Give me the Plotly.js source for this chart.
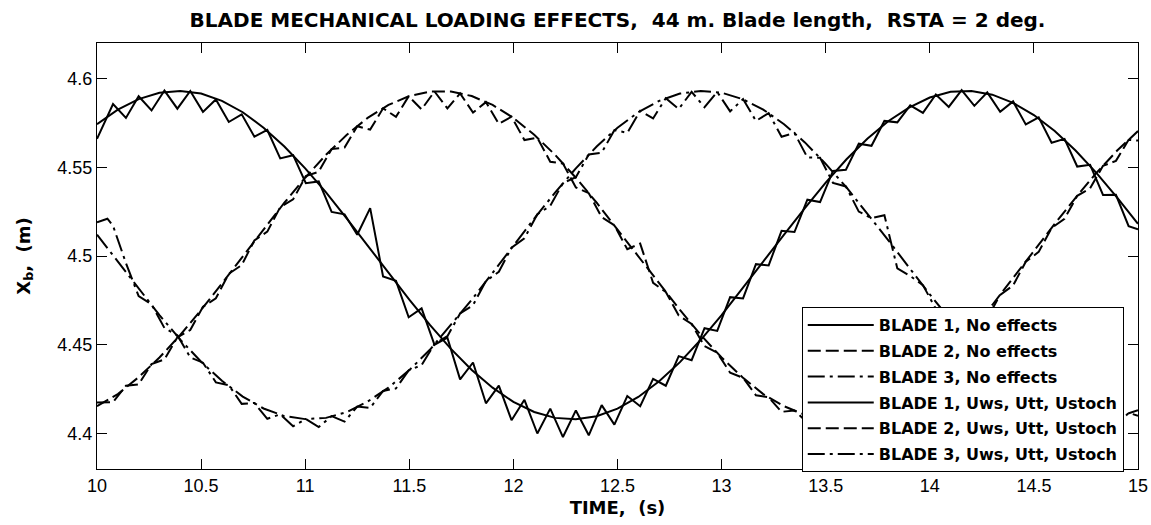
<!DOCTYPE html>
<html><head><meta charset="utf-8">
<script src="https://cdn.plot.ly/plotly-3.0.1.min.js"></script>
<style>html,body{margin:0;padding:0;background:#fff}#chart{width:1151px;height:525px}</style>
</head><body><div id="chart"></div>
<script>
const timeGrid = [10.0,10.1,10.2,10.3,10.4,10.5,10.6,10.7,10.8,10.9,11.0,11.1,11.2,11.3,11.4,11.5,11.6,11.7,11.8,11.9,12.0,12.1,12.2,12.3,12.4,12.5,12.6,12.7,12.8,12.9,13.0,13.1,13.2,13.3,13.4,13.5,13.6,13.7,13.8,13.9,14.0,14.1,14.2,14.3,14.4,14.5,14.6,14.7,14.8,14.9,15.0];
const blade1NoEffects = [4.5742,4.5825,4.5884,4.5920,4.5930,4.5915,4.5874,4.5810,4.5723,4.5617,4.5494,4.5358,4.5211,4.5059,4.4905,4.4754,4.4610,4.4477,4.4358,4.4258,4.4178,4.4121,4.4088,4.4080,4.4097,4.4140,4.4206,4.4294,4.4402,4.4528,4.4667,4.4816,4.4967,4.5120,4.5270,4.5413,4.5545,4.5661,4.5759,4.5836,4.5893,4.5925,4.5929,4.5909,4.5863,4.5794,4.5704,4.5594,4.5468,4.5329,4.5181];
const blade2NoEffects = [4.4154,4.4222,4.4317,4.4428,4.4555,4.4696,4.4845,4.4997,4.5150,4.5300,4.5441,4.5570,4.5683,4.5778,4.5851,4.5901,4.5927,4.5927,4.5901,4.5851,4.5778,4.5683,4.5570,4.5441,4.5300,4.5150,4.4997,4.4845,4.4696,4.4555,4.4428,4.4317,4.4222,4.4154,4.4105,4.4082,4.4085,4.4113,4.4166,4.4242,4.4338,4.4453,4.4582,4.4724,4.4874,4.5028,4.5181,4.5328,4.5468,4.5594,4.5704];
const blade3NoEffects = [4.5120,4.4967,4.4814,4.4667,4.4529,4.4404,4.4297,4.4208,4.4141,4.4098,4.4081,4.4088,4.4121,4.4180,4.4258,4.4357,4.4473,4.4611,4.4754,4.4905,4.5059,4.5211,4.5357,4.5494,4.5617,4.5723,4.5810,4.5874,4.5915,4.5930,4.5920,4.5884,4.5825,4.5742,4.5640,4.5519,4.5386,4.5241,4.5090,4.4936,4.4784,4.4639,4.4503,4.4382,4.4277,4.4192,4.4130,4.4092,4.4080,4.4093,4.4131];

const effTime = [10.000,10.077,10.139,10.200,10.262,10.324,10.386,10.448,10.509,10.571,10.633,10.695,10.756,10.818,10.880,10.942,11.003,11.065,11.127,11.189,11.250,11.312,11.374,11.436,11.497,11.559,11.621,11.683,11.744,11.806,11.868,11.930,11.991,12.053,12.115,12.177,12.238,12.300,12.362,12.424,12.485,12.547,12.609,12.671,12.732,12.794,12.856,12.918,12.979,13.041,13.103,13.165,13.226,13.288,13.350,13.412,13.473,13.535,13.597,13.659,13.720,13.782,13.844,13.906,13.967,14.029,14.091,14.153,14.214,14.276,14.338,14.400,14.461,14.523,14.585,14.647,14.708,14.770,14.832,14.894,14.955,15.000];
const blade1Effects = [4.5660,4.5856,4.5778,4.5900,4.5820,4.5932,4.5830,4.5930,4.5812,4.5882,4.5755,4.5798,4.5672,4.5710,4.5550,4.5568,4.5410,4.5420,4.5248,4.5235,4.5120,4.5270,4.4885,4.4860,4.4655,4.4705,4.4500,4.4540,4.4305,4.4400,4.4170,4.4270,4.4075,4.4190,4.4000,4.4140,4.3980,4.4130,4.3990,4.4160,4.4050,4.4211,4.4154,4.4308,4.4269,4.4436,4.4413,4.4593,4.4578,4.4768,4.4761,4.4954,4.4947,4.5142,4.5135,4.5317,4.5304,4.5479,4.5486,4.5633,4.5621,4.5761,4.5753,4.5849,4.5806,4.5910,4.5840,4.5935,4.5846,4.5922,4.5812,4.5871,4.5741,4.5781,4.5638,4.5660,4.5504,4.5514,4.5344,4.5345,4.5168,4.5150];
const blade2Effects = [4.4175,4.4176,4.4269,4.4277,4.4391,4.4418,4.4542,4.4583,4.4714,4.4762,4.4900,4.4949,4.5088,4.5137,4.5275,4.5319,4.5450,4.5475,4.5603,4.5611,4.5731,4.5712,4.5832,4.5784,4.5900,4.5826,4.5927,4.5832,4.5916,4.5808,4.5867,4.5744,4.5785,4.5653,4.5666,4.5531,4.5521,4.5386,4.5354,4.5219,4.5173,4.5038,4.5070,4.4849,4.4797,4.4665,4.4617,4.4492,4.4455,4.4342,4.4314,4.4215,4.4204,4.4122,4.4130,4.4062,4.4088,4.4043,4.4085,4.4062,4.4124,4.4116,4.4199,4.4208,4.4306,4.4331,4.4443,4.4481,4.4602,4.4650,4.4781,4.4834,4.4968,4.5023,4.5158,4.5210,4.5339,4.5381,4.5508,4.5536,4.5655,4.5650];
const blade3EffTime = [10.000,10.050,10.077,10.139,10.200,10.262,10.324,10.386,10.448,10.509,10.571,10.633,10.695,10.756,10.818,10.880,10.942,11.003,11.065,11.127,11.189,11.250,11.312,11.374,11.436,11.497,11.559,11.621,11.683,11.744,11.806,11.868,11.930,11.991,12.053,12.115,12.177,12.238,12.300,12.362,12.424,12.485,12.547,12.609,12.671,12.732,12.794,12.856,12.918,12.979,13.041,13.103,13.165,13.226,13.288,13.350,13.412,13.473,13.535,13.597,13.659,13.720,13.782,13.844,13.906,13.967,14.029,14.091,14.153,14.214,14.276,14.338,14.400,14.461,14.523,14.585,14.647,14.708,14.770,14.832,14.894,14.955,15.000];
const blade3Effects = [4.5190,4.5210,4.5170,4.4960,4.4774,4.4728,4.4594,4.4553,4.4429,4.4399,4.4288,4.4272,4.4167,4.4172,4.4083,4.4108,4.4041,4.4082,4.4036,4.4098,4.4067,4.4152,4.4144,4.4240,4.4254,4.4356,4.4385,4.4504,4.4548,4.4676,4.4723,4.4859,4.4911,4.5047,4.5100,4.5235,4.5283,4.5411,4.5444,4.5572,4.5582,4.5709,4.5694,4.5818,4.5775,4.5889,4.5828,4.5925,4.5838,4.5924,4.5815,4.5884,4.5761,4.5805,4.5672,4.5693,4.5555,4.5554,4.5412,4.5392,4.5250,4.5213,4.5230,4.4930,4.4887,4.4836,4.4702,4.4654,4.4527,4.4488,4.4371,4.4344,4.4237,4.4227,4.4133,4.4141,4.4062,4.4093,4.4034,4.4086,4.4042,4.4116,4.4100];

const xTicks = [10,10.5,11,11.5,12,12.5,13,13.5,14,14.5,15];
const yTicks = [4.4,4.45,4.5,4.55,4.6];
const yTickText = ['4.4','4.45','4.5','4.55','4.6'];
const legendNames = ['BLADE 1, No effects','BLADE 2, No effects','BLADE 3, No effects','BLADE 1, Uws, Utt, Ustoch','BLADE 2, Uws, Utt, Ustoch','BLADE 3, Uws, Utt, Ustoch'];

const DASH = '13px,5px';
const DASHDOT = '17px,5px,3px,5px';
function tr(x, y, name, dash, g) {
  return {x: x, y: y, name: name, type: 'scatter', mode: 'lines', legendgroup: g,
    line: {color: '#000', width: 2, dash: dash}};
}
const data = [
  tr(timeGrid, blade1NoEffects, legendNames[0], 'solid', 'a'),
  tr(timeGrid, blade2NoEffects, legendNames[1], DASH, 'b'),
  tr(timeGrid, blade3NoEffects, legendNames[2], DASHDOT, 'c'),
  tr(effTime, blade1Effects, legendNames[3], 'solid', 'd'),
  tr(effTime, blade2Effects, legendNames[4], DASH, 'e'),
  tr(blade3EffTime, blade3Effects, legendNames[5], DASHDOT, 'f')
];
const boldFont = {family: 'DejaVu Sans', size: 16, color: '#000', weight: 'bold'};
const layout = {
  width: 1151, height: 525,
  margin: {l: 97, r: 13, t: 43, b: 56},
  paper_bgcolor: '#fff', plot_bgcolor: '#fff',
  showlegend: true,
  title: {text: 'BLADE MECHANICAL LOADING EFFECTS,&nbsp; 44 m. Blade length,&nbsp; RSTA = 2 deg.',
    font: {family: 'DejaVu Sans', size: 20, color: '#000', weight: 'bold'},
    x: 0.5365, xanchor: 'center', y: 0.962, yanchor: 'middle'},
  xaxis: {range: [10, 15], tickvals: xTicks, ticks: 'inside', ticklen: 10, tickcolor: '#000',
    showline: true, linecolor: '#000', linewidth: 1, mirror: 'ticks', showgrid: false, zeroline: false,
    tickfont: {family: 'Liberation Sans, Arial', size: 18, color: '#000'},
    title: {text: 'TIME,&nbsp; (s)', font: {family: 'DejaVu Sans', size: 18, color: '#000', weight: 'bold'}, standoff: 6}},
  yaxis: {range: [4.38, 4.62], tickvals: yTicks, ticktext: yTickText, ticks: 'inside', ticklen: 10, tickcolor: '#000',
    showline: true, linecolor: '#000', linewidth: 1, mirror: 'ticks', showgrid: false, zeroline: false,
    tickfont: {family: 'Liberation Sans, Arial', size: 18, color: '#000'},
    title: {text: 'X<sub>b</sub>,&nbsp; (m)', font: {family: 'DejaVu Sans', size: 18, color: '#000', weight: 'bold'}, standoff: 22}},
  legend: {x: 0.677, y: 0.380, xanchor: 'left', yanchor: 'top', bgcolor: '#fff', bordercolor: '#000', borderwidth: 1,
    font: boldFont, tracegroupgap: 2, itemwidth: 66}
};
Plotly.newPlot('chart', data, layout, {displayModeBar: false, staticPlot: true});
</script>
</body></html>
